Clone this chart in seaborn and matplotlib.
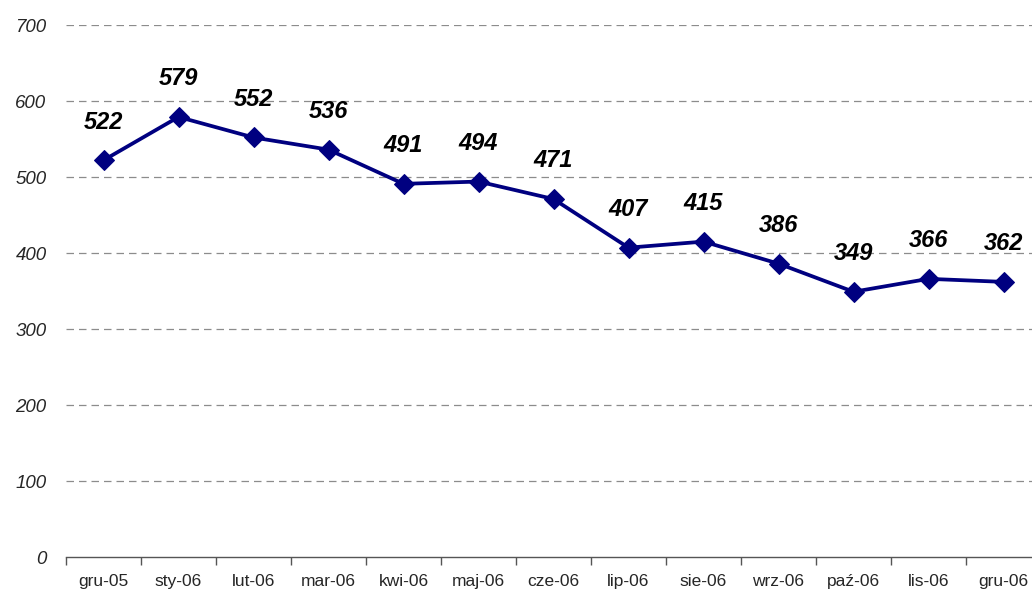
import matplotlib
matplotlib.use("Agg")
import matplotlib.pyplot as plt
import seaborn as sns
import pandas as pd

months = ["gru-05", "sty-06", "lut-06", "mar-06", "kwi-06", "maj-06", "cze-06",
          "lip-06", "sie-06", "wrz-06", "paź-06", "lis-06", "gru-06"]
values = [522, 579, 552, 536, 491, 494, 471, 407, 415, 386, 349, 366, 362]
yticks = [0, 100, 200, 300, 400, 500, 600, 700]

sns.set_theme(style="white")
plt.rcParams['font.family'] = ['Liberation Sans', 'DejaVu Sans']

W, H = 1032, 596
fig = plt.figure(figsize=(W / 100, H / 100), dpi=100)
left, bottom = 66 / W, 39 / H
ax = fig.add_axes([left, bottom, 975 / W, (557 - 25) / H])

df = pd.DataFrame({"month": months, "value": values})
df["pos"] = range(len(months))
sns.lineplot(data=df, x="pos", y="value", ax=ax, color="#000080", linewidth=2.7,
             marker="D", markersize=10, markeredgecolor="#000080", sort=False)

for i, v in enumerate(values):
    ax.annotate(str(v), (i, v), xytext=(0, 27.5), textcoords="offset points",
                ha="center", va="center", fontsize=17, fontweight="bold",
                fontstyle="italic", color="black")

ax.set_xlim(-0.5, len(months) - 0.5)
ax.set_ylim(0, 700)
ax.set_yticks(yticks)
ax.set_yticklabels([str(t) for t in yticks], fontstyle="italic", fontsize=13.5)
ax.set_xticks(range(len(months)))
ax.set_xticklabels(months, fontsize=12.5)
ax.set_xticks([i - 0.5 for i in range(len(months) + 1)], minor=True)
ax.tick_params(axis="x", which="major", length=0, pad=12)
ax.tick_params(axis="x", which="minor", length=6, width=1, color="#555555", direction="out")
ax.xaxis.set_tick_params(which="minor", bottom=True)
ax.tick_params(axis="y", length=0, pad=14)
for lab in ax.get_yticklabels():
    lab.set_horizontalalignment("right")

for t in yticks[1:]:
    ax.axhline(t, color="#8c8c8c", linestyle=(0, (6, 4)), linewidth=0.9, zorder=0)

for s in ["top", "right", "left"]:
    ax.spines[s].set_visible(False)
ax.spines["bottom"].set_color("#555555")
ax.spines["bottom"].set_linewidth(1)
ax.set_xlabel("")
ax.set_ylabel("")
ax.grid(False)

fig.savefig("out.png", dpi=100)
